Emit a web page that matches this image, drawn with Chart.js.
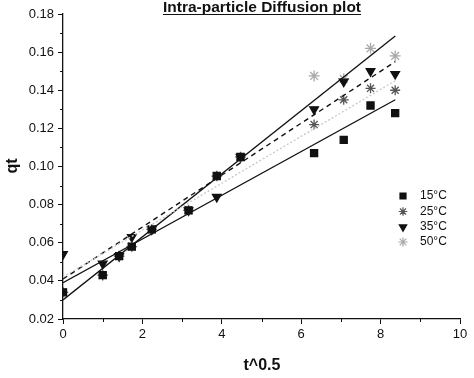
<!DOCTYPE html>
<html>
<head>
<meta charset="utf-8">
<style>
  html, body { margin: 0; padding: 0; background: #fff; }
  #wrap { width: 474px; height: 378px; }
</style>
<script src="https://cdn.jsdelivr.net/npm/chart.js@4.4.1/dist/chart.umd.min.js"></script>
</head>
<body>
<div id="wrap"><canvas id="c" width="474" height="378"></canvas></div>
<script>
// ---- data ----
const tSqrt = [0, 1, 1.414, 1.732, 2.236, 3.162, 3.873, 4.472, 6.325, 7.071, 7.746, 8.367];
const qt15 = [0.034, 0.043, 0.053, 0.058, 0.067, 0.077, 0.095, 0.105, 0.107, 0.114, 0.132, 0.128];
const qt25 = [0.034, 0.043, 0.053, 0.058, 0.067, 0.077, 0.095, 0.105, 0.122, 0.135, 0.141, 0.140];
const qt35 = [0.054, 0.049, 0.053, 0.063, 0.067, 0.077, 0.084, 0.105, 0.130, 0.1445, 0.150, 0.1485];
const qt50 = [0.034, 0.043, 0.053, 0.058, 0.067, 0.077, 0.095, 0.105, 0.1475, 0.146, 0.162, 0.158];
const fitX = [0, 8.37];
const fit15 = [0.039, 0.135];
const fit25 = [0.042, 0.145];
const fit35 = [0.041, 0.155];
const fit50 = [0.030, 0.1685];
const seriesLabels = ['15°C', '25°C', '35°C', '50°C'];
const xTicks = [0, 2, 4, 6, 8, 10];
const yTicks = [0.02, 0.04, 0.06, 0.08, 0.10, 0.12, 0.14, 0.16, 0.18];
const xMinor = [1, 3, 5, 7, 9];
const yMinor = [0.03, 0.05, 0.07, 0.09, 0.11, 0.13, 0.15, 0.17];
const titleText = 'Intra-particle Diffusion plot';
const xTitle = 't^0.5';
const yTitle = 'qt';

const pts = (xs, ys) => xs.map((x, i) => ({x: x, y: ys[i]}));
const FONT = "'Liberation Sans', Arial, sans-serif";

const markerStyles = [
  {pointStyle: 'rect', color: '#111', radius: 5, rotation: 0},
  {pointStyle: 'star', color: '#555', radius: 5, rotation: 0},
  {pointStyle: 'triangle', color: '#111', radius: 5, rotation: 180},
  {pointStyle: 'star', color: '#aaa', radius: 5.5, rotation: 0}
];
const seriesData = [qt15, qt25, qt35, qt50];
const fits = [
  {d: fit15, color: '#111', dash: [], w: 1.3},
  {d: fit25, color: '#c8c8c8', dash: [2, 2], w: 1.3},
  {d: fit35, color: '#111', dash: [5, 4], w: 1.4},
  {d: fit50, color: '#111', dash: [], w: 1.3}
];

const datasets = [];
fits.forEach(f => datasets.push({
  data: pts(fitX, f.d), showLine: true, borderColor: f.color, borderWidth: f.w,
  borderDash: f.dash, pointRadius: 0, fill: false
}));
seriesData.forEach((s, i) => {
  const m = markerStyles[i];
  datasets.push({
    label: seriesLabels[i], data: pts(tSqrt, s), showLine: false,
    pointStyle: m.pointStyle, pointRadius: m.radius, pointRotation: m.rotation,
    backgroundColor: m.color, borderColor: m.color, pointBorderWidth: 1.3
  });
});

const decor = {
  id: 'decor',
  afterDraw(chart) {
    const ctx = chart.ctx;
    const xs = chart.scales.x, ys = chart.scales.y;
    const area = chart.chartArea;
    ctx.save();
    // minor ticks
    ctx.strokeStyle = '#111';
    ctx.lineWidth = 1;
    xMinor.forEach(v => {
      const px = Math.round(xs.getPixelForValue(v)) + 0.5;
      ctx.beginPath(); ctx.moveTo(px, area.bottom); ctx.lineTo(px, area.bottom + 3); ctx.stroke();
    });
    yMinor.forEach(v => {
      const py = Math.round(ys.getPixelForValue(v)) + 0.5;
      ctx.beginPath(); ctx.moveTo(area.left, py); ctx.lineTo(area.left - 3, py); ctx.stroke();
    });
    // title
    ctx.fillStyle = '#111';
    ctx.font = 'bold 15.5px ' + FONT;
    ctx.textAlign = 'center';
    ctx.textBaseline = 'middle';
    const tx = 262, ty = 8;
    ctx.fillText(titleText, tx, ty);
    const tw = ctx.measureText(titleText).width;
    ctx.lineWidth = 1.2;
    ctx.beginPath(); ctx.moveTo(tx - tw / 2, 14.5); ctx.lineTo(tx + tw / 2, 14.5); ctx.stroke();
    // axis titles
    ctx.font = 'bold 16px ' + FONT;
    ctx.fillText(xTitle, 262, 366);
    ctx.save();
    ctx.translate(13, 166);
    ctx.rotate(-Math.PI / 2);
    ctx.fillText(yTitle, 0, 0);
    ctx.restore();
    // legend
    const ly = [196, 211.5, 227, 242];
    ctx.font = '12px ' + FONT;
    ctx.textAlign = 'left';
    markerStyles.forEach((m, i) => {
      ctx.fillStyle = m.color; ctx.strokeStyle = m.color; ctx.lineWidth = 1.2;
      Chart.helpers.drawPoint(ctx, {pointStyle: m.pointStyle, radius: m.radius * 0.85, rotation: m.rotation, borderWidth: 1.2}, 403, ly[i]);
      ctx.fillStyle = '#111';
      ctx.fillText(seriesLabels[i], 420, ly[i]);
    });
    ctx.restore();
  }
};

new Chart(document.getElementById('c'), {
  type: 'scatter',
  data: {datasets: datasets},
  plugins: [decor],
  options: {
    responsive: false,
    animation: false,
    layout: {padding: {top: 14, right: 14, left: 0, bottom: 0}},
    plugins: {legend: {display: false}, tooltip: {enabled: false}, title: {display: false}},
    scales: {
      x: {
        type: 'linear', min: 0, max: 10,
        afterFit: s => { s.height = 59; },
        afterBuildTicks: s => { s.ticks = xTicks.map(v => ({value: v})); },
        ticks: {color: '#111', font: {size: 13, family: FONT}, padding: 3, maxRotation: 0,
                callback: v => String(v)},
        grid: {drawOnChartArea: false, drawTicks: true, tickLength: 5, color: '#111', tickWidth: 1},
        border: {display: true, color: '#111', width: 1.3}
      },
      y: {
        type: 'linear', min: 0.02, max: 0.18,
        afterFit: s => { s.width = 63; },
        afterBuildTicks: s => { s.ticks = yTicks.map(v => ({value: v})); },
        ticks: {color: '#111', font: {size: 13, family: FONT}, padding: 4,
                callback: v => Number(v).toFixed(2)},
        grid: {drawOnChartArea: false, drawTicks: true, tickLength: 5, color: '#111', tickWidth: 1},
        border: {display: true, color: '#111', width: 1.3}
      }
    }
  }
});
</script>
</body>
</html>
